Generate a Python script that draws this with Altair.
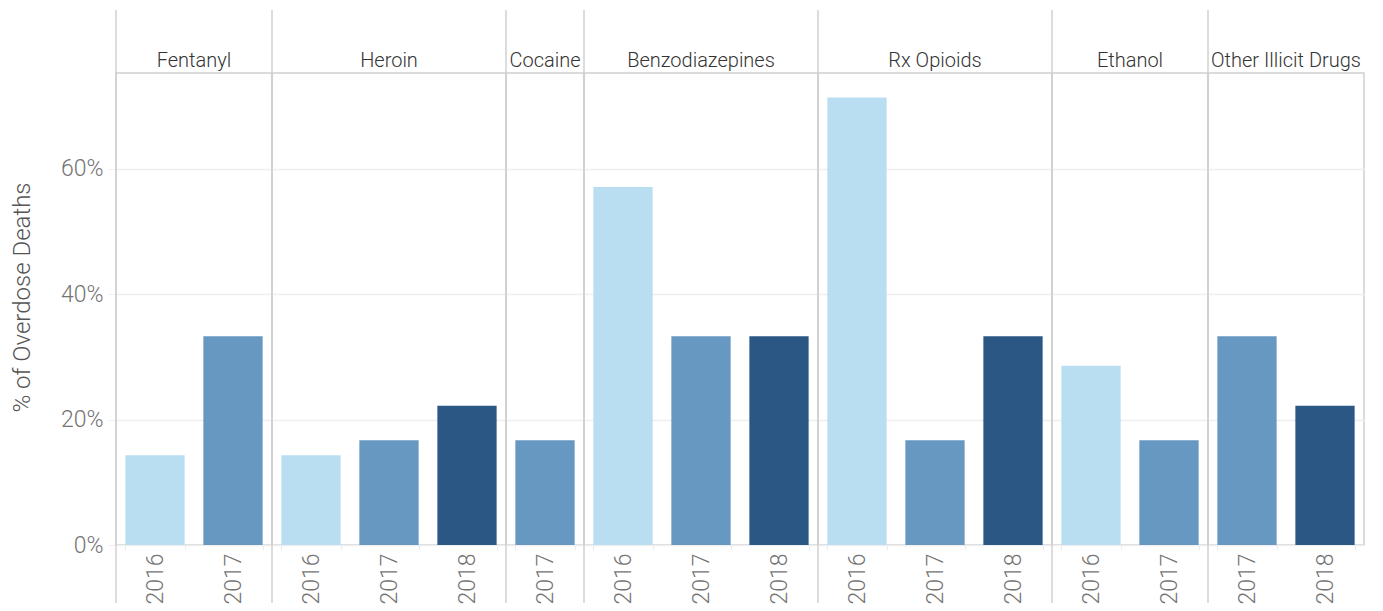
import altair as alt
import pandas as pd

drug = ["Fentanyl", "Fentanyl",
        "Heroin", "Heroin", "Heroin",
        "Cocaine",
        "Benzodiazepines", "Benzodiazepines", "Benzodiazepines",
        "Rx Opioids", "Rx Opioids", "Rx Opioids",
        "Ethanol", "Ethanol",
        "Other Illicit Drugs", "Other Illicit Drugs"]
year = ["2016", "2017",
        "2016", "2017", "2018",
        "2017",
        "2016", "2017", "2018",
        "2016", "2017", "2018",
        "2016", "2017",
        "2017", "2018"]
share = [0.143, 0.333,
         0.143, 0.167, 0.222,
         0.167,
         0.571, 0.333, 0.333,
         0.714, 0.167, 0.333,
         0.286, 0.167,
         0.333, 0.222]
drug_order = ["Fentanyl", "Heroin", "Cocaine", "Benzodiazepines",
              "Rx Opioids", "Ethanol", "Other Illicit Drugs"]
years_all = ["2016", "2017", "2018"]
year_colors = ["#b9ddf1", "#6798c1", "#2a5783"]
y_ticks = [0, 0.2, 0.4, 0.6]

df = pd.DataFrame({"Drug": drug, "Year": year, "Share": share})

H = 472
FONT = "Roboto"
LINE = "#d0d0d0"

bars = alt.Chart().mark_bar().encode(
    x=alt.X("Year:N", title=None,
            scale=alt.Scale(paddingInner=0.24, paddingOuter=0.12),
            axis=alt.Axis(labelAngle=270, labelAlign="right", labelBaseline="middle",
                          labelFontSize=23, labelColor="#747474", labelFont=FONT,
                          labelFontWeight=300, labelPadding=3,
                          ticks=True, tickBand="extent", tickColor="#ececec",
                          tickSize=5, domain=False)),
    y=alt.Y("Share:Q", title="% of Overdose Deaths",
            scale=alt.Scale(domain=[0, 0.753], nice=False),
            axis=alt.Axis(format=".0%", values=y_ticks, labelFontSize=23,
                          labelColor="#747474", labelFont=FONT, labelFontWeight=300,
                          labelPadding=5, tickSize=8, tickColor="#efefef",
                          grid=True, gridColor="#efefef", gridWidth=1.5,
                          domain=False, titleFontSize=24, titleFont=FONT,
                          titleFontWeight=300, titleColor="#555555",
                          titlePadding=26, titleY=224)),
    color=alt.Color("Year:N", scale=alt.Scale(domain=years_all, range=year_colors),
                    legend=None),
)

sep = alt.Chart().transform_aggregate(
    n="count()", groupby=["Drug"]
).mark_rule(color=LINE, strokeWidth=1.5).encode(
    x=alt.value(0), y=alt.value(-63), y2=alt.value(H + 58)
)

chart = alt.layer(bars, sep, data=df).properties(
    width=alt.Step(78), height=H
).facet(
    column=alt.Column("Drug:N", sort=drug_order, title=None,
                      header=alt.Header(labelOrient="top", labelFontSize=20,
                                        labelColor="#333333", labelFont=FONT,
                                        labelFontWeight=300, labelPadding=2)),
    spacing=0,
    bounds="flush"
).resolve_scale(
    x="independent"
).configure_view(
    stroke=LINE, strokeWidth=1.5
).properties(
    padding={"left": 2, "top": 0, "right": 0, "bottom": 0}
)

chart.save("out.html", embed_options={"renderer": "svg", "actions": False})
